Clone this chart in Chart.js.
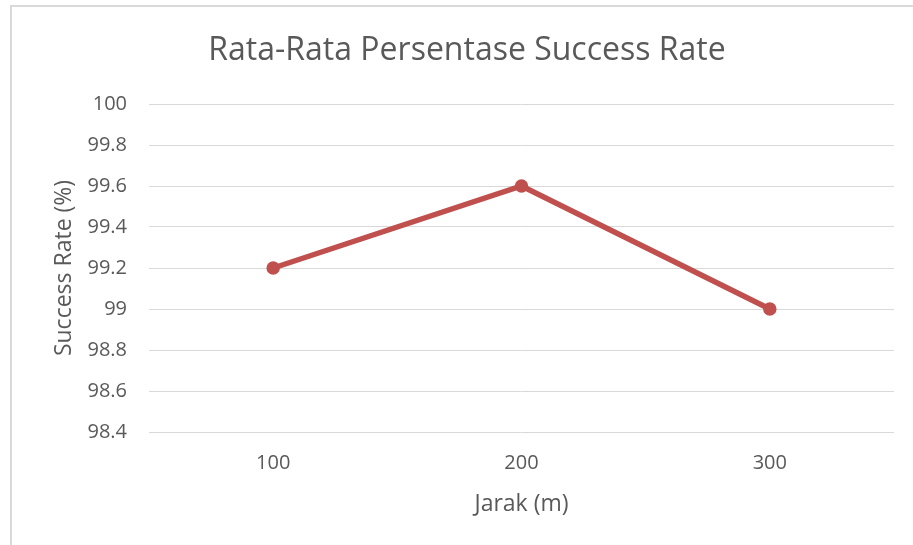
<!DOCTYPE html>
<html>
<head>
<meta charset="utf-8">
<script src="https://cdn.jsdelivr.net/npm/chart.js@4/dist/chart.umd.min.js"></script>
<style>
  html, body { margin: 0; padding: 0; background: #ffffff; overflow: hidden; }
  #wrap { position: relative; width: 913px; height: 545px; }
  #frame { position: absolute; left: 10px; top: 5px; width: 1000px; height: 1000px;
           border-left: 2px solid #d9d9d9; border-top: 2px solid #d9d9d9; }
  canvas { position: absolute; left: 0; top: 0; }
</style>
</head>
<body>
<div id="wrap">
  <div id="frame"></div>
  <canvas id="chart" width="913" height="545"></canvas>
</div>
<script>
// Distance categories (m) and average success rate (%)
const jarak = ["100", "200", "300"];
const successRate = [99.2, 99.6, 99.0];
const yTicks = [98.4, 98.6, 98.8, 99.0, 99.2, 99.4, 99.6, 99.8, 100];

const textColor = "#595959";
const gridColor = "#d9d9d9";
const lineColor = "#c0504d";
const fontFamily = "'Open Sans', 'Liberation Sans', sans-serif";

new Chart(document.getElementById("chart"), {
  type: "line",
  data: {
    labels: jarak,
    datasets: [{
      label: "Success Rate",
      data: successRate,
      borderColor: lineColor,
      backgroundColor: lineColor,
      borderWidth: 5.5,
      pointRadius: 6,
      pointHoverRadius: 6,
      pointBorderWidth: 1.5,
      pointBackgroundColor: lineColor,
      pointBorderColor: lineColor,
      tension: 0,
      fill: false
    }]
  },
  options: {
    responsive: false,
    animation: false,
    devicePixelRatio: 1,
    layout: { padding: { left: 40, right: 19, top: 0, bottom: 0 } },
    plugins: {
      legend: { display: false },
      tooltip: { enabled: false },
      title: {
        display: true,
        text: "Rata-Rata Persentase Success Rate",
        color: textColor,
        font: { family: fontFamily, size: 32, weight: "normal" },
        padding: { top: 32, bottom: 33.6 }
      }
    },
    scales: {
      x: {
        type: "category",
        offset: true,
        grid: { display: false, drawTicks: false },
        border: { display: false },
        ticks: { color: textColor, font: { family: fontFamily, size: 20 }, padding: 19 },
        title: {
          display: true,
          text: "Jarak (m)",
          color: textColor,
          font: { family: fontFamily, size: 23 },
          padding: { top: 0, bottom: 27 }
        },
        afterFit: (scale) => { scale.height = 113; }
      },
      y: {
        min: 98.4,
        max: 100,
        grid: { color: gridColor, lineWidth: 1, drawTicks: false },
        border: { display: false },
        ticks: {
          color: textColor,
          font: { family: fontFamily, size: 20 },
          padding: 22,
          callback: (v) => String(Math.round(v * 10) / 10)
        },
        afterBuildTicks: (scale) => { scale.ticks = yTicks.map(v => ({ value: v })); },
        title: {
          display: true,
          text: "Success Rate (%)",
          color: textColor,
          font: { family: fontFamily, size: 23 },
          padding: { top: 11, bottom: 0 }
        },
        afterFit: (scale) => { scale.width = 109; }
      }
    }
  }
});
</script>
</body>
</html>
